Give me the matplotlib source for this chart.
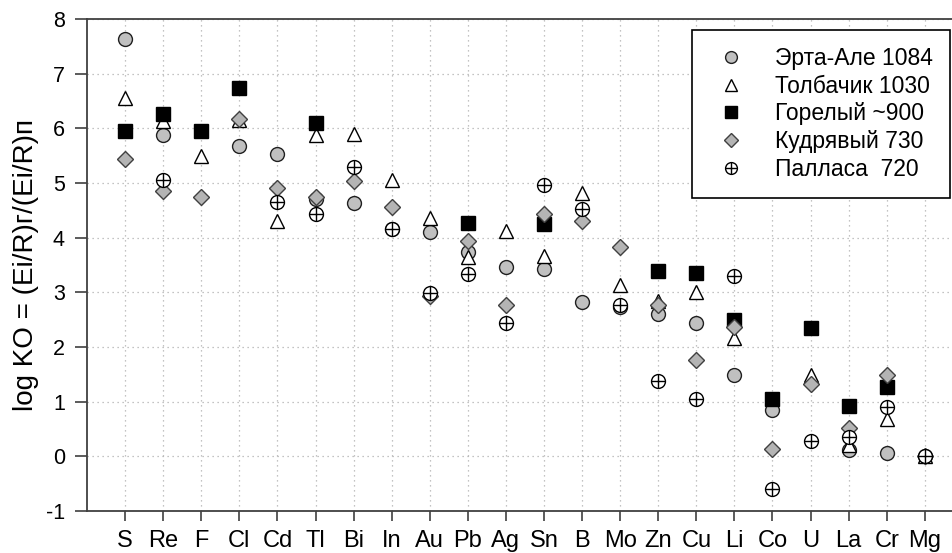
import numpy as np
import matplotlib
matplotlib.use("Agg")
from matplotlib import pyplot as plt

plt.rcParams['font.family'] = ['Liberation Sans', 'DejaVu Sans']
plt.rcParams['axes.unicode_minus'] = False

elements = ["S", "Re", "F", "Cl", "Cd", "Tl", "Bi", "In", "Au", "Pb", "Ag",
            "Sn", "B", "Mo", "Zn", "Cu", "Li", "Co", "U", "La", "Cr", "Mg"]
nan = np.nan
erta_ale = [7.64, 5.87, nan, 5.67, 5.53, 4.70, 4.64, 4.15, 4.10, 3.74, 3.46,
            3.43, 2.82, 2.73, 2.61, 2.43, 1.49, 0.84, nan, 0.12, 0.06, 0.0]
tolbachik = [6.56, 6.13, 5.50, 6.15, 4.31, 5.87, 5.89, 5.06, 4.36, 3.64, 4.13,
             3.66, 4.81, 3.13, 2.85, 3.00, 2.17, nan, 1.48, 0.20, 0.69, 0.0]
gorely = [5.95, 6.27, 5.95, 6.74, nan, 6.09, nan, nan, nan, 4.27, nan,
          4.25, nan, nan, 3.39, 3.36, 2.50, 1.05, 2.35, 0.92, 1.26, nan]
kudryavy = [5.44, 4.86, 4.74, 6.17, 4.91, 4.74, 5.03, 4.56, 2.93, 3.93, 2.76,
            4.44, 4.30, 3.83, 2.77, 1.76, 2.36, 0.14, 1.33, 0.52, 1.49, 0.0]
pallasa = [nan, 5.05, nan, nan, 4.65, 4.44, 5.29, 4.15, 2.99, 3.33, 2.44,
           4.97, 4.53, 2.77, 1.38, 1.05, 3.30, -0.59, 0.28, 0.35, 0.90, 0.0]

x = np.arange(len(elements))

fig = plt.figure(figsize=(9.53, 5.53), dpi=100)
ax = fig.add_axes([0.0913, 0.076, 0.9087, 0.8896])

ms = 10
h1, = ax.plot(x, erta_ale, 'o', ms=ms, mfc='#c0c0c0', mec='#202020', mew=1.0, ls='none')
h2, = ax.plot(x, tolbachik, '^', ms=ms, mfc='white', mec='black', mew=1.0, ls='none')
h3, = ax.plot(x, gorely, 's', ms=ms - 0.5, mfc='black', mec='black', mew=1.0, ls='none')
h4, = ax.plot(x, kudryavy, 'D', ms=ms - 1.5, mfc='#b4b4b4', mec='#404040', mew=1.0, ls='none')
h5a, = ax.plot(x, pallasa, 'o', ms=ms, mfc='white', mec='black', mew=1.0, ls='none')
h5b, = ax.plot(x, pallasa, '+', ms=ms, mec='black', mew=1.0, ls='none')

ax.set_xlim(-1, 21.74)
ax.set_ylim(-1, 8)
ax.set_xticks(x)
ax.set_xticklabels(elements, fontsize=17)
ax.set_yticks(range(-1, 9))
ax.tick_params(axis='y', labelsize=15.5, length=9, width=1.2, color='#404040', direction='out', pad=7)
ax.tick_params(axis='x', length=7, width=1.2, color='#404040', direction='out', pad=7)

ax.grid(True, ls=(0, (1, 3)), color='#b0b0b0', lw=0.9)
ax.set_axisbelow(True)

for side in ['left', 'bottom', 'top']:
    ax.spines[side].set_color('#404040')
    ax.spines[side].set_linewidth(1.3)
ax.spines['right'].set_visible(False)

ax.set_ylabel("log KO = (Ei/R)г/(Ei/R)п", fontsize=20, labelpad=5)

leg = ax.legend([h1, h2, h3, h4, (h5a, h5b)],
                ["Эрта-Але 1084", "Толбачик 1030", "Горелый ~900",
                 "Кудрявый 730", "Палласа  720"],
                loc='upper right', bbox_to_anchor=(0.9965, 0.9776),
                borderaxespad=0, fontsize=16.5, markerscale=0.85,
                fancybox=False, edgecolor='black', framealpha=1,
                borderpad=0.75, handletextpad=0.95, labelspacing=0.2,
                handlelength=1.9)
leg.get_frame().set_linewidth(1.2)

plt.savefig("out.png", dpi=100)
